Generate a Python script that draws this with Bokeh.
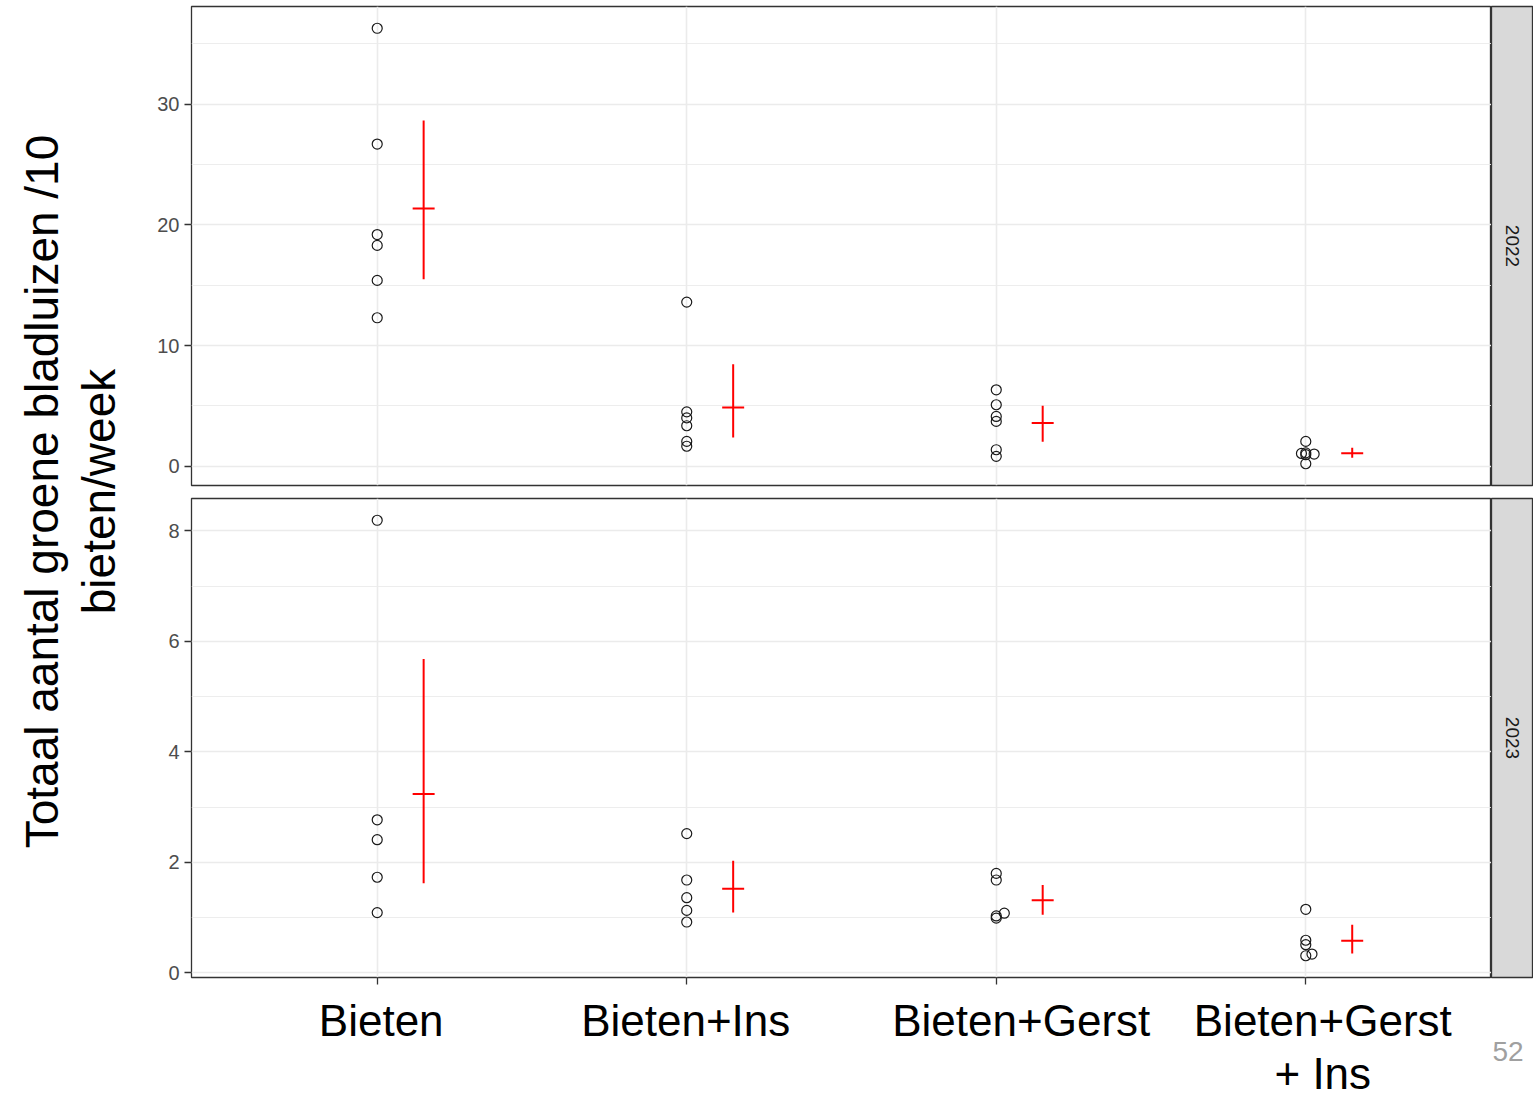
from math import pi

from bokeh.core.properties import value
from bokeh.embed import file_html
from bokeh.layouts import column, row
from bokeh.models import FixedTicker, Label, Range1d, SingleIntervalTicker
from bokeh.plotting import figure
from bokeh.resources import INLINE

# ---------------------------------------------------------------------------
# Data: total green aphids per 10 beets per week, per plot
# ---------------------------------------------------------------------------
treatments = ["Bieten", "Bieten+Ins", "Bieten+Gerst", "Bieten+Gerst\n+ Ins"]
years = ["2022", "2023"]
slide_number = "52"

bieten_2022 = [36.3, 26.7, 19.2, 18.3, 15.4, 12.3]
bieten_ins_2022 = [13.6, 4.5, 4.0, 3.35, 2.05, 1.65]
bieten_gerst_2022 = [6.33, 5.09, 4.12, 3.71, 1.36, 0.81]
bieten_gerst_ins_2022 = [2.05, 1.05, 1.0, 1.1, 0.95, 0.2]

bieten_2023 = [8.19, 2.77, 2.41, 1.73, 1.09]
bieten_ins_2023 = [2.52, 1.68, 1.36, 1.13, 0.92]
bieten_gerst_2023 = [1.80, 1.68, 1.08, 1.03, 0.99]
bieten_gerst_ins_2023 = [1.15, 0.59, 0.51, 0.31, 0.34]

# confidence interval around the mean (lower / upper), per treatment
ci_low_2022 = [15.5, 2.38, 2.03, 0.70]
ci_high_2022 = [28.66, 8.45, 5.00, 1.53]
ci_low_2023 = [1.62, 1.09, 1.05, 0.35]
ci_high_2023 = [5.68, 2.03, 1.59, 0.87]

# small horizontal nudges so overlapping plots stay visible
nudge_2022 = [
    [0, 0, 0, 0, 0, 0],
    [0, 0, 0, 0, 0, 0],
    [0, 0, 0, 0, 0, 0],
    [0, -0.014, 0.027, 0, 0, 0],
]
nudge_2023 = [
    [0, 0, 0, 0, 0],
    [0, 0, 0, 0, 0],
    [0, 0, 0.026, 0, 0],
    [0, 0, 0, 0, 0.02],
]

groups_2022 = [bieten_2022, bieten_ins_2022, bieten_gerst_2022, bieten_gerst_ins_2022]
groups_2023 = [bieten_2023, bieten_ins_2023, bieten_gerst_2023, bieten_gerst_ins_2023]

# ---------------------------------------------------------------------------
# Styling
# ---------------------------------------------------------------------------
FONT = "Liberation Sans"
GRID = "#EBEBEB"
BORDER = "#333333"
PANEL_W = 1351
STRIP_W = 42
MEAN_SHIFT = 0.15
CAP_HALF = 0.0355
X_RANGE = (0.4, 4.6)
LABEL_NUDGE_PX = [4, -1, 25, 17]   # slide text boxes sit slightly off the ticks

TOP_H, BOTTOM_H = 492, 497
LABELS_H = 1098 - TOP_H - BOTTOM_H


def make_panel(groups, nudges, lo, hi, interval, height, top, bottom, show_ticks):
    all_y = [v for g in groups for v in g] + lo + hi
    ymin, ymax = min(all_y), max(all_y)
    pad = 0.05 * (ymax - ymin)

    p = figure(
        width=PANEL_W, height=height,
        x_range=Range1d(*X_RANGE), y_range=Range1d(ymin - pad, ymax + pad),
        output_backend="svg", toolbar_location=None,
        min_border_left=51, min_border_right=0,
        min_border_top=top, min_border_bottom=bottom,
        background_fill_color="white", border_fill_color="white",
        outline_line_color=BORDER, outline_line_width=1.3,
    )

    yt = SingleIntervalTicker(interval=interval, num_minor_ticks=2)
    xt = FixedTicker(ticks=[1, 2, 3, 4])
    p.yaxis.ticker = yt
    p.ygrid.ticker = yt
    p.xaxis.ticker = xt
    p.xgrid.ticker = xt

    p.ygrid.grid_line_color = GRID
    p.ygrid.grid_line_width = 1.6
    p.ygrid.minor_grid_line_color = GRID
    p.ygrid.minor_grid_line_width = 0.9
    p.xgrid.grid_line_color = GRID
    p.xgrid.grid_line_width = 1.6

    for ax in p.axis:
        ax.axis_line_color = None
        ax.major_tick_line_color = BORDER
        ax.major_tick_line_width = 1.3
        ax.major_tick_in = 0
        ax.major_tick_out = 7
        ax.minor_tick_line_color = None
        ax.major_label_text_font = FONT

    p.yaxis.major_label_text_font_size = "20px"
    p.yaxis.major_label_text_color = "#4D4D4D"
    p.yaxis.major_label_standoff = 5

    if show_ticks:
        # category names are set as large slide text underneath
        p.xaxis.major_label_overrides = {i + 1: "" for i in range(len(treatments))}
        p.xaxis.major_label_text_font_size = "0px"
        p.xaxis.major_label_standoff = 0
    else:
        p.xaxis.visible = False

    # individual plots
    px, py = [], []
    for i, (g, nd) in enumerate(zip(groups, nudges)):
        for v, d in zip(g, nd):
            px.append(i + 1 + d)
            py.append(v)
    p.scatter(px, py, marker="circle", size=10, fill_color=None,
              line_color="#1A1A1A", line_width=1.2)

    # mean with interval, drawn as a red cross beside each treatment
    xc = [i + 1 + MEAN_SHIFT for i in range(len(groups))]
    means = [sum(g) / len(g) for g in groups]
    p.segment(x0=xc, y0=lo, x1=xc, y1=hi, line_color="red", line_width=2)
    p.segment(x0=[x - CAP_HALF for x in xc], y0=means,
              x1=[x + CAP_HALF for x in xc], y1=means,
              line_color="red", line_width=2)
    return p


def make_strip(label, height, top, bottom):
    s = figure(
        width=STRIP_W, height=height,
        x_range=Range1d(0, 1), y_range=Range1d(0, 1),
        x_axis_location=None, y_axis_location=None,
        output_backend="svg", toolbar_location=None,
        min_border_left=0, min_border_right=0,
        min_border_top=top, min_border_bottom=bottom,
        background_fill_color="#D9D9D9", border_fill_color="white",
        outline_line_color=BORDER, outline_line_width=1.3,
    )
    s.grid.visible = False
    s.text(x=[0.5], y=[0.5], text=[label], angle=-pi / 2,
           text_align="center", text_baseline="middle",
           text_font=value("Liberation Sans Narrow, Liberation Sans"),
           text_font_size="19px", text_color="#1A1A1A")
    return s


def blank_fig(width, height, x_range, y_range):
    f = figure(
        width=width, height=height, x_range=x_range, y_range=y_range,
        x_axis_location=None, y_axis_location=None,
        output_backend="svg", toolbar_location=None,
        min_border=0, outline_line_color=None,
        background_fill_color="white", border_fill_color="white",
    )
    f.grid.visible = False
    return f


top_panel = make_panel(groups_2022, nudge_2022, ci_low_2022, ci_high_2022,
                       10, TOP_H, 6, 7, False)
bottom_panel = make_panel(groups_2023, nudge_2023, ci_low_2023, ci_high_2023,
                          2, BOTTOM_H, 6, 12, True)

top_strip = make_strip(years[0], TOP_H, 6, 7)
bottom_strip = make_strip(years[1], BOTTOM_H, 6, 12)

# treatment names below the lower panel, sharing its horizontal scale
labels_fig = blank_fig(PANEL_W, LABELS_H, Range1d(*X_RANGE), Range1d(0, LABELS_H))
labels_fig.min_border_left = 51
labels_fig.text(
    x=[i + 1 for i in range(len(treatments))], y=[LABELS_H - 6] * len(treatments),
    text=treatments, x_offset=LABEL_NUDGE_PX,
    text_align="center", text_baseline="top", text_line_height=1.1,
    text_font=value(FONT), text_font_size="44px", text_color="black",
)

# slide number in the bottom-right corner
corner_fig = blank_fig(STRIP_W, LABELS_H, Range1d(0, STRIP_W), Range1d(0, LABELS_H))
corner_fig.text(
    x=[1], y=[47], text=[slide_number],
    text_align="left", text_baseline="middle",
    text_font=value(FONT), text_font_size="28px", text_color="#A0A0A0",
)

# shared y-axis title on the left
title_fig = blank_fig(140, 1098, Range1d(0, 140), Range1d(0, 1098))
for xpos, line in [(41, "Totaal aantal groene bladluizen /10"), (98, "bieten/week")]:
    title_fig.add_layout(Label(
        x=xpos, y=607, text=line, angle=pi / 2,
        text_align="center", text_baseline="alphabetic",
        text_font=FONT, text_font_size="46px", text_color="black",
    ))

layout = row(
    title_fig,
    column(
        row(top_panel, top_strip),
        row(bottom_panel, bottom_strip),
        row(labels_fig, corner_fig),
    ),
)

open("out.html", "w").write(file_html(layout, INLINE))
